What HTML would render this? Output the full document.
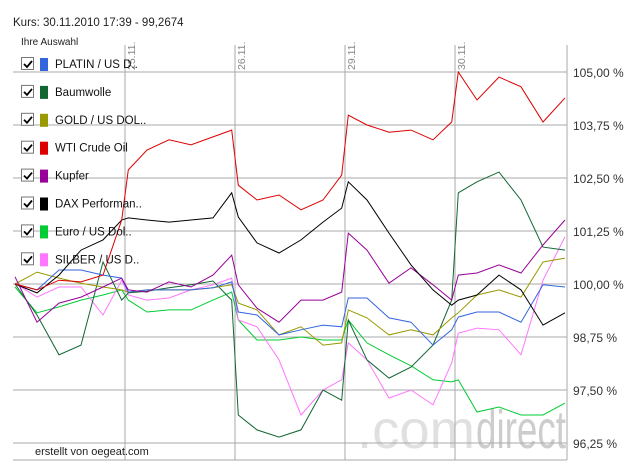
<!DOCTYPE html>
<html><head><meta charset="utf-8"><style>
body{margin:0;background:#fff;width:626px;height:463px;overflow:hidden;font-family:"Liberation Sans",sans-serif;}
svg{position:absolute;left:0;top:0}
</style></head><body>
<svg id="c" width="626" height="463">
<text x="357" y="448" font-size="54" fill="#e0e0e0" textLength="118" lengthAdjust="spacingAndGlyphs">.com</text>
<text x="476" y="448" font-size="54" fill="#cdcdcd" textLength="90" lengthAdjust="spacingAndGlyphs">direct</text>
<g id="grid"></g><g id="series"></g>
<text x="13" y="26" font-size="11.5" fill="#222">Kurs: 30.11.2010 17:39 - 99,2674</text>
<text x="21" y="45" font-size="10" fill="#222">Ihre Auswahl</text>
<text x="35" y="455" font-size="11" fill="#222">erstellt von oegeat.com</text>
<g id="legend"></g>
</svg>
<script>
const yTicks=[105,103.75,102.5,101.25,100,98.75,97.5,96.25];
const yTickLabels=["105,00 %","103,75 %","102,50 %","101,25 %","100,00 %","98,75 %","97,50 %","96,25 %"];
const dayLabels=["25.11.","26.11.","29.11.","30.11."];
const dayTicks=[1,2,3,4];
const T=[0,.2,.4,.6,.8,.97,1.03,1.2,1.4,1.6,1.8,1.97,2.03,2.2,2.4,2.6,2.8,2.97,3.03,3.2,3.4,3.6,3.8,3.97,4.03,4.2,4.4,4.6,4.8,5.0];
const names=["PLATIN / US D..","Baumwolle","GOLD / US DOL..","WTI Crude Oil","Kupfer","DAX Performan..","Euro / US Dol..","SILBER / US D.."];
const colors=["#3366dd","#116633","#999900","#dd0000","#990099","#000000","#00cc33","#ff77ff"];
const platin=[100.00,99.86,100.33,100.33,100.21,100.14,99.81,99.86,99.86,99.86,99.91,100.05,99.34,99.27,98.80,98.92,99.03,98.99,99.67,99.67,99.20,99.10,98.56,98.92,99.22,99.34,99.34,99.10,99.98,99.93];
const baumwolle=[100.00,99.27,98.33,98.56,100.52,99.62,99.79,99.83,99.91,99.98,100.07,99.62,96.91,96.56,96.39,96.56,97.50,97.26,99.15,98.21,97.78,98.04,98.56,99.62,102.15,102.41,102.64,101.98,100.87,100.80];
const gold=[100.00,100.28,100.14,100.02,99.93,99.86,99.81,99.86,99.86,99.86,99.91,99.98,99.55,99.39,98.80,98.99,98.56,98.61,99.39,99.20,98.80,98.92,98.80,99.20,99.32,99.74,99.86,99.69,100.52,100.61];
const wti=[100.00,99.86,100.09,100.05,100.21,101.51,102.69,103.16,103.40,103.28,103.47,103.63,102.33,101.98,102.10,101.75,101.98,102.57,103.98,103.75,103.58,103.63,103.40,103.82,105.00,104.34,104.88,104.65,103.82,104.39];
const kupfer=[100.17,99.10,99.55,99.69,99.93,100.14,99.86,99.81,100.05,99.93,100.21,100.68,99.98,99.43,99.10,99.62,99.62,99.81,101.20,100.80,100.02,100.38,99.98,99.62,100.21,100.26,100.45,100.26,100.92,101.51];
const dax=[100.00,99.79,100.21,100.80,101.04,101.51,101.56,101.51,101.46,101.51,101.56,102.15,101.58,100.97,100.73,101.04,101.46,101.79,102.41,101.98,101.20,100.45,99.86,99.50,99.62,99.74,100.21,99.86,99.03,99.32];
const euro=[99.93,99.32,99.46,99.62,99.74,99.86,99.62,99.34,99.39,99.39,99.62,99.81,99.15,98.68,98.68,98.75,98.68,98.68,99.15,98.61,98.33,98.07,97.74,97.69,97.74,96.98,97.10,96.91,96.91,97.19];
const silber=[100.02,99.69,99.93,99.93,99.27,100.09,99.74,99.62,99.67,99.86,99.98,100.14,99.15,98.99,98.21,96.91,97.50,97.74,98.61,98.21,97.31,97.50,97.15,98.14,98.84,98.96,98.92,98.33,100.09,101.11];
const allSeries=[platin,baumwolle,gold,wti,kupfer,dax,euro,silber];
const NS="http://www.w3.org/2000/svg";
const X=t=>15+t*110;
const Y=v=>284-(v-100)*42.4;
function mk(tag,attrs,parent){const e=document.createElementNS(NS,tag);for(const k in attrs)e.setAttribute(k,attrs[k]);parent.appendChild(e);return e;}
const grid=document.getElementById('grid');
yTicks.forEach((v,i)=>{
 const l=mk('line',{x1:13,x2:567,y1:Y(v),y2:Y(v),stroke:'#aaa','stroke-width':1},grid);
 
 
 const t=mk('text',{x:573,y:Y(v)+5,'font-size':12,fill:'#333'},grid);
 t.textContent=yTickLabels[i];
 
 
});
dayTicks.forEach((d,i)=>{
 const l=mk('line',{x1:X(d),x2:X(d),y1:45,y2:460,stroke:'#aaa','stroke-width':1},grid);
 
 
 const t=mk('text',{x:0,y:0,'font-size':10.5,fill:'#888',transform:`translate(${X(d)+10},70) rotate(-90)`},grid);
 t.textContent=dayLabels[i];
 
 
});
const b1=mk('line',{x1:13,x2:567,y1:460,y2:460,stroke:'#aaa'},grid);


const b2=mk('line',{x1:567,x2:567,y1:45,y2:460,stroke:'#aaa'},grid);


const sg=document.getElementById('series');
[6,7,1,2,0,4,5,3].forEach(i=>{
 const pts=allSeries[i].map((v,j)=>X(T[j]).toFixed(1)+','+Y(v).toFixed(1)).join(' ');
 const p=mk('polyline',{points:pts,fill:'none',stroke:colors[i],'stroke-width':1},sg);
 
 
});
const lg=document.getElementById('legend');
names.forEach((n,i)=>{
 const y=64+i*27.9;
 const g=mk('g',{},lg);
 
 
 mk('rect',{x:21.5,y:y-6.5,width:12,height:12,fill:'#fff',stroke:'#777'},g);
 mk('path',{d:`M24 ${y} l3 3 l5 -6`,fill:'none',stroke:'#000','stroke-width':1.8},g);
 mk('rect',{x:40,y:y-6,width:8,height:13,fill:colors[i]},g);
 const t=mk('text',{x:55,y:y+4,'font-size':11.5,fill:'#111'},g);
 t.textContent=n;
});
</script>
</body></html>
